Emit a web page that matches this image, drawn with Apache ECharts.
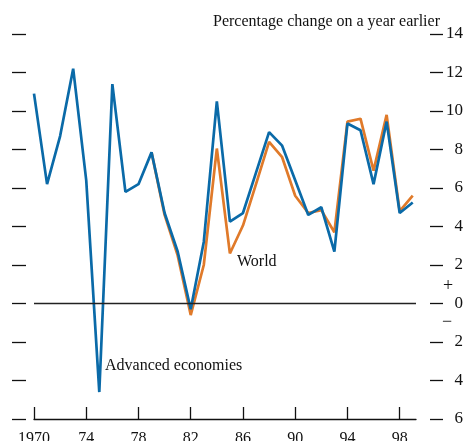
<!DOCTYPE html>
<html>
<head>
<meta charset="utf-8">
<style>html,body{margin:0;padding:0;background:#fff;}#c{width:465px;height:441px;}</style>
<script src="https://cdn.jsdelivr.net/npm/echarts@6/dist/echarts.min.js"></script>
</head>
<body>
<div id="c"></div>
<script>
const years = [1970,1971,1972,1973,1974,1975,1976,1977,1978,1979,1980,1981,1982,1983,1984,1985,1986,1987,1988,1989,1990,1991,1992,1993,1994,1995,1996,1997,1998,1999];
const advanced = [10.9,6.2,8.7,12.2,6.4,-4.6,11.4,5.8,6.2,7.85,4.7,2.7,-0.3,3.2,10.5,4.25,4.7,6.8,8.9,8.2,6.4,4.6,5.0,2.7,9.35,9.0,6.2,9.45,4.7,5.25];
const world = [null,null,null,null,null,null,null,null,null,7.85,4.6,2.5,-0.6,2.0,8.05,2.6,4.05,6.2,8.4,7.6,5.6,4.7,4.85,3.7,9.45,9.6,6.9,9.8,4.8,5.6];
const xTicks = [1970,1974,1978,1982,1986,1990,1994,1998];
const yTicks = [-6,-4,-2,0,2,4,6,8,10,12,14];
const title = 'Percentage change on a year earlier';
const labelWorld = 'World';
const labelAdv = 'Advanced economies';

const FONT = '"Liberation Serif", "Times New Roman", serif';
const chart = echarts.init(document.getElementById('c'));
chart.setOption({
  animation: false,
  grid: {left: 34, top: 34, width: 382, height: 385, outerBoundsMode: 'none', containLabel: false},
  xAxis: {
    type: 'value', min: 1970, max: 1999.25,
    axisLine: {show: true, onZero: false, lineStyle: {color: '#111', width: 1.3}},
    axisTick: {show: true, inside: true, length: 12, lineStyle: {color: '#111', width: 1.3}, customValues: xTicks},
    axisLabel: {color: '#111', fontFamily: FONT, fontSize: 16, margin: 12, customValues: xTicks,
      formatter: v => v === 1970 ? '1970' : String(v).slice(2)},
    splitLine: {show: false}
  },
  yAxis: [{
    type: 'value', min: -6, max: 14, interval: 2, position: 'left', offset: 8,
    axisLine: {show: false},
    axisTick: {show: true, length: 14, lineStyle: {color: '#111', width: 1.3}, customValues: yTicks},
    axisLabel: {show: false},
    splitLine: {show: false}
  }, {
    type: 'value', min: -6, max: 14, interval: 2, position: 'right', offset: 14,
    axisLine: {show: false},
    axisTick: {show: true, length: 13, lineStyle: {color: '#111', width: 1.3}, customValues: yTicks},
    axisLabel: {color: '#111', fontFamily: FONT, fontSize: 17, align: 'right', margin: 33, customValues: yTicks,
      formatter: v => String(Math.abs(v))},
    splitLine: {show: false}
  }],
  series: [{
    name: 'World', type: 'line', yAxisIndex: 0,
    data: years.map((y, i) => [y, world[i]]),
    showSymbol: false, connectNulls: false,
    lineStyle: {color: '#e07a2a', width: 2.7}, itemStyle: {color: '#e07a2a'},
    markLine: {silent: true, symbol: 'none', label: {show: false},
      lineStyle: {color: '#222', width: 1.3, type: 'solid'}, data: [{yAxis: 0}]}
  }, {
    name: 'Advanced economies', type: 'line', yAxisIndex: 0,
    data: years.map((y, i) => [y, advanced[i]]),
    showSymbol: false,
    lineStyle: {color: '#0a6aa8', width: 2.7}, itemStyle: {color: '#0a6aa8'}
  }],
  graphic: [
    {type: 'text', x: 213, y: 22, style: {text: title, font: '16px ' + FONT, fill: '#111', verticalAlign: 'middle'}},
    {type: 'text', x: 237, y: 262, style: {text: labelWorld, font: '16px ' + FONT, fill: '#111', verticalAlign: 'middle'}},
    {type: 'text', x: 105, y: 366, style: {text: labelAdv, font: '16px ' + FONT, fill: '#111', verticalAlign: 'middle'}},
    {type: 'text', x: 448, y: 286, style: {text: '+', font: '18px ' + FONT, fill: '#111', align: 'center', verticalAlign: 'middle'}},
    {type: 'text', x: 447, y: 322, style: {text: '\u2212', font: '18px ' + FONT, fill: '#111', align: 'center', verticalAlign: 'middle'}}
  ]
});
</script>
</body>
</html>
